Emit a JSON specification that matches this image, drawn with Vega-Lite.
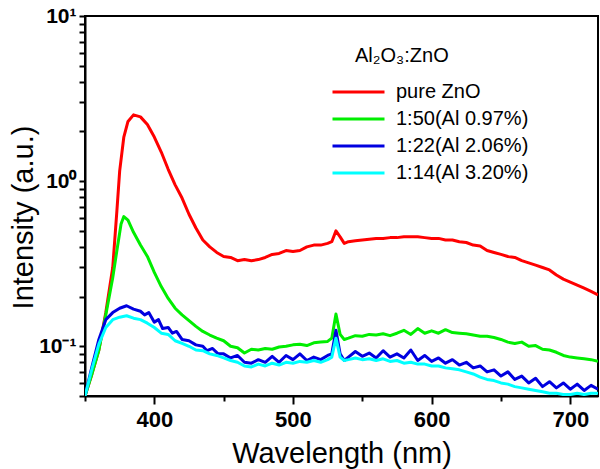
{
  "$schema": "https://vega.github.io/schema/vega-lite/v6.json",
  "width": 513,
  "height": 380,
  "autosize": {"type": "none"},
  "padding": {"left": 85, "top": 16, "right": 2, "bottom": 73},
  "background": "white",
  "config": {
    "view": {"stroke": "black", "strokeWidth": 2},
    "font": "Liberation Sans"
  },
  "title": {
    "text": "Al₂O₃:ZnO", "anchor": "start", "frame": "group", "orient": "top",
    "offset": 0, "baseline": "alphabetic", "dx": 270, "dy": 77,
    "font": "Liberation Sans", "fontSize": 20, "fontWeight": "normal", "color": "black"
  },
  "data": {
    "values": [
      {"w":350,"v":0.05,"s":"pure ZnO"},{"w":355,"v":0.068,"s":"pure ZnO"},{"w":360,"v":0.095,"s":"pure ZnO"},{"w":365,"v":0.16,"s":"pure ZnO"},{"w":370,"v":0.30,"s":"pure ZnO"},{"w":373,"v":0.66,"s":"pure ZnO"},{"w":375,"v":1.15,"s":"pure ZnO"},{"w":378,"v":1.85,"s":"pure ZnO"},{"w":381,"v":2.3,"s":"pure ZnO"},{"w":385,"v":2.52,"s":"pure ZnO"},{"w":390,"v":2.45,"s":"pure ZnO"},{"w":395,"v":2.2,"s":"pure ZnO"},{"w":400,"v":1.85,"s":"pure ZnO"},{"w":405,"v":1.5,"s":"pure ZnO"},{"w":410,"v":1.18,"s":"pure ZnO"},{"w":415,"v":0.95,"s":"pure ZnO"},{"w":420,"v":0.79,"s":"pure ZnO"},{"w":425,"v":0.63,"s":"pure ZnO"},{"w":430,"v":0.52,"s":"pure ZnO"},{"w":435,"v":0.44,"s":"pure ZnO"},{"w":440,"v":0.40,"s":"pure ZnO"},{"w":445,"v":0.37,"s":"pure ZnO"},{"w":450,"v":0.35,"s":"pure ZnO"},{"w":455,"v":0.345,"s":"pure ZnO"},{"w":460,"v":0.33,"s":"pure ZnO"},{"w":465,"v":0.335,"s":"pure ZnO"},{"w":470,"v":0.33,"s":"pure ZnO"},{"w":475,"v":0.335,"s":"pure ZnO"},{"w":480,"v":0.345,"s":"pure ZnO"},{"w":485,"v":0.36,"s":"pure ZnO"},{"w":490,"v":0.365,"s":"pure ZnO"},{"w":495,"v":0.38,"s":"pure ZnO"},{"w":500,"v":0.375,"s":"pure ZnO"},{"w":505,"v":0.38,"s":"pure ZnO"},{"w":510,"v":0.40,"s":"pure ZnO"},{"w":515,"v":0.41,"s":"pure ZnO"},{"w":520,"v":0.41,"s":"pure ZnO"},{"w":525,"v":0.42,"s":"pure ZnO"},{"w":528,"v":0.43,"s":"pure ZnO"},{"w":531,"v":0.50,"s":"pure ZnO"},{"w":534,"v":0.46,"s":"pure ZnO"},{"w":537,"v":0.42,"s":"pure ZnO"},{"w":540,"v":0.43,"s":"pure ZnO"},{"w":545,"v":0.435,"s":"pure ZnO"},{"w":550,"v":0.44,"s":"pure ZnO"},{"w":555,"v":0.445,"s":"pure ZnO"},{"w":560,"v":0.45,"s":"pure ZnO"},{"w":565,"v":0.45,"s":"pure ZnO"},{"w":570,"v":0.455,"s":"pure ZnO"},{"w":575,"v":0.455,"s":"pure ZnO"},{"w":580,"v":0.46,"s":"pure ZnO"},{"w":585,"v":0.46,"s":"pure ZnO"},{"w":590,"v":0.46,"s":"pure ZnO"},{"w":595,"v":0.455,"s":"pure ZnO"},{"w":600,"v":0.45,"s":"pure ZnO"},{"w":605,"v":0.45,"s":"pure ZnO"},{"w":610,"v":0.44,"s":"pure ZnO"},{"w":615,"v":0.44,"s":"pure ZnO"},{"w":620,"v":0.43,"s":"pure ZnO"},{"w":625,"v":0.425,"s":"pure ZnO"},{"w":630,"v":0.41,"s":"pure ZnO"},{"w":635,"v":0.405,"s":"pure ZnO"},{"w":640,"v":0.38,"s":"pure ZnO"},{"w":645,"v":0.37,"s":"pure ZnO"},{"w":650,"v":0.36,"s":"pure ZnO"},{"w":655,"v":0.35,"s":"pure ZnO"},{"w":660,"v":0.345,"s":"pure ZnO"},{"w":665,"v":0.33,"s":"pure ZnO"},{"w":670,"v":0.32,"s":"pure ZnO"},{"w":675,"v":0.31,"s":"pure ZnO"},{"w":680,"v":0.30,"s":"pure ZnO"},{"w":685,"v":0.29,"s":"pure ZnO"},{"w":690,"v":0.27,"s":"pure ZnO"},{"w":695,"v":0.255,"s":"pure ZnO"},{"w":700,"v":0.245,"s":"pure ZnO"},{"w":705,"v":0.235,"s":"pure ZnO"},{"w":710,"v":0.225,"s":"pure ZnO"},{"w":715,"v":0.215,"s":"pure ZnO"},{"w":720,"v":0.205,"s":"pure ZnO"},

      {"w":350,"v":0.05,"s":"1:50(Al 0.97%)"},{"w":355,"v":0.068,"s":"1:50(Al 0.97%)"},{"w":360,"v":0.095,"s":"1:50(Al 0.97%)"},{"w":365,"v":0.155,"s":"1:50(Al 0.97%)"},{"w":370,"v":0.26,"s":"1:50(Al 0.97%)"},{"w":373,"v":0.38,"s":"1:50(Al 0.97%)"},{"w":376,"v":0.55,"s":"1:50(Al 0.97%)"},{"w":378,"v":0.61,"s":"1:50(Al 0.97%)"},{"w":381,"v":0.58,"s":"1:50(Al 0.97%)"},{"w":385,"v":0.49,"s":"1:50(Al 0.97%)"},{"w":390,"v":0.41,"s":"1:50(Al 0.97%)"},{"w":395,"v":0.35,"s":"1:50(Al 0.97%)"},{"w":400,"v":0.28,"s":"1:50(Al 0.97%)"},{"w":405,"v":0.23,"s":"1:50(Al 0.97%)"},{"w":410,"v":0.195,"s":"1:50(Al 0.97%)"},{"w":415,"v":0.17,"s":"1:50(Al 0.97%)"},{"w":420,"v":0.155,"s":"1:50(Al 0.97%)"},{"w":425,"v":0.143,"s":"1:50(Al 0.97%)"},{"w":430,"v":0.132,"s":"1:50(Al 0.97%)"},{"w":435,"v":0.123,"s":"1:50(Al 0.97%)"},{"w":440,"v":0.117,"s":"1:50(Al 0.97%)"},{"w":445,"v":0.112,"s":"1:50(Al 0.97%)"},{"w":450,"v":0.108,"s":"1:50(Al 0.97%)"},{"w":455,"v":0.100,"s":"1:50(Al 0.97%)"},{"w":460,"v":0.098,"s":"1:50(Al 0.97%)"},{"w":465,"v":0.091,"s":"1:50(Al 0.97%)"},{"w":470,"v":0.096,"s":"1:50(Al 0.97%)"},{"w":475,"v":0.095,"s":"1:50(Al 0.97%)"},{"w":480,"v":0.097,"s":"1:50(Al 0.97%)"},{"w":485,"v":0.096,"s":"1:50(Al 0.97%)"},{"w":490,"v":0.099,"s":"1:50(Al 0.97%)"},{"w":495,"v":0.100,"s":"1:50(Al 0.97%)"},{"w":500,"v":0.102,"s":"1:50(Al 0.97%)"},{"w":505,"v":0.103,"s":"1:50(Al 0.97%)"},{"w":510,"v":0.101,"s":"1:50(Al 0.97%)"},{"w":515,"v":0.105,"s":"1:50(Al 0.97%)"},{"w":520,"v":0.106,"s":"1:50(Al 0.97%)"},{"w":525,"v":0.107,"s":"1:50(Al 0.97%)"},{"w":528,"v":0.112,"s":"1:50(Al 0.97%)"},{"w":531,"v":0.157,"s":"1:50(Al 0.97%)"},{"w":534,"v":0.118,"s":"1:50(Al 0.97%)"},{"w":537,"v":0.110,"s":"1:50(Al 0.97%)"},{"w":540,"v":0.112,"s":"1:50(Al 0.97%)"},{"w":545,"v":0.116,"s":"1:50(Al 0.97%)"},{"w":550,"v":0.115,"s":"1:50(Al 0.97%)"},{"w":555,"v":0.118,"s":"1:50(Al 0.97%)"},{"w":560,"v":0.117,"s":"1:50(Al 0.97%)"},{"w":565,"v":0.119,"s":"1:50(Al 0.97%)"},{"w":570,"v":0.116,"s":"1:50(Al 0.97%)"},{"w":575,"v":0.12,"s":"1:50(Al 0.97%)"},{"w":580,"v":0.125,"s":"1:50(Al 0.97%)"},{"w":585,"v":0.118,"s":"1:50(Al 0.97%)"},{"w":590,"v":0.128,"s":"1:50(Al 0.97%)"},{"w":595,"v":0.12,"s":"1:50(Al 0.97%)"},{"w":600,"v":0.124,"s":"1:50(Al 0.97%)"},{"w":605,"v":0.12,"s":"1:50(Al 0.97%)"},{"w":610,"v":0.126,"s":"1:50(Al 0.97%)"},{"w":615,"v":0.121,"s":"1:50(Al 0.97%)"},{"w":620,"v":0.12,"s":"1:50(Al 0.97%)"},{"w":625,"v":0.119,"s":"1:50(Al 0.97%)"},{"w":630,"v":0.117,"s":"1:50(Al 0.97%)"},{"w":635,"v":0.115,"s":"1:50(Al 0.97%)"},{"w":640,"v":0.115,"s":"1:50(Al 0.97%)"},{"w":645,"v":0.113,"s":"1:50(Al 0.97%)"},{"w":650,"v":0.11,"s":"1:50(Al 0.97%)"},{"w":655,"v":0.106,"s":"1:50(Al 0.97%)"},{"w":660,"v":0.104,"s":"1:50(Al 0.97%)"},{"w":665,"v":0.106,"s":"1:50(Al 0.97%)"},{"w":670,"v":0.100,"s":"1:50(Al 0.97%)"},{"w":675,"v":0.101,"s":"1:50(Al 0.97%)"},{"w":680,"v":0.096,"s":"1:50(Al 0.97%)"},{"w":685,"v":0.095,"s":"1:50(Al 0.97%)"},{"w":690,"v":0.092,"s":"1:50(Al 0.97%)"},{"w":695,"v":0.088,"s":"1:50(Al 0.97%)"},{"w":700,"v":0.086,"s":"1:50(Al 0.97%)"},{"w":705,"v":0.085,"s":"1:50(Al 0.97%)"},{"w":710,"v":0.084,"s":"1:50(Al 0.97%)"},{"w":715,"v":0.083,"s":"1:50(Al 0.97%)"},{"w":720,"v":0.081,"s":"1:50(Al 0.97%)"},

      {"w":350,"v":0.05,"s":"1:22(Al 2.06%)"},{"w":355,"v":0.075,"s":"1:22(Al 2.06%)"},{"w":360,"v":0.11,"s":"1:22(Al 2.06%)"},{"w":365,"v":0.145,"s":"1:22(Al 2.06%)"},{"w":370,"v":0.16,"s":"1:22(Al 2.06%)"},{"w":375,"v":0.17,"s":"1:22(Al 2.06%)"},{"w":380,"v":0.176,"s":"1:22(Al 2.06%)"},{"w":385,"v":0.168,"s":"1:22(Al 2.06%)"},{"w":390,"v":0.163,"s":"1:22(Al 2.06%)"},{"w":393,"v":0.155,"s":"1:22(Al 2.06%)"},{"w":396,"v":0.16,"s":"1:22(Al 2.06%)"},{"w":400,"v":0.14,"s":"1:22(Al 2.06%)"},{"w":403,"v":0.145,"s":"1:22(Al 2.06%)"},{"w":406,"v":0.128,"s":"1:22(Al 2.06%)"},{"w":410,"v":0.13,"s":"1:22(Al 2.06%)"},{"w":413,"v":0.12,"s":"1:22(Al 2.06%)"},{"w":416,"v":0.123,"s":"1:22(Al 2.06%)"},{"w":420,"v":0.11,"s":"1:22(Al 2.06%)"},{"w":425,"v":0.108,"s":"1:22(Al 2.06%)"},{"w":430,"v":0.102,"s":"1:22(Al 2.06%)"},{"w":435,"v":0.1,"s":"1:22(Al 2.06%)"},{"w":438,"v":0.094,"s":"1:22(Al 2.06%)"},{"w":442,"v":0.097,"s":"1:22(Al 2.06%)"},{"w":446,"v":0.09,"s":"1:22(Al 2.06%)"},{"w":450,"v":0.09,"s":"1:22(Al 2.06%)"},{"w":455,"v":0.085,"s":"1:22(Al 2.06%)"},{"w":460,"v":0.088,"s":"1:22(Al 2.06%)"},{"w":465,"v":0.08,"s":"1:22(Al 2.06%)"},{"w":470,"v":0.079,"s":"1:22(Al 2.06%)"},{"w":475,"v":0.083,"s":"1:22(Al 2.06%)"},{"w":480,"v":0.08,"s":"1:22(Al 2.06%)"},{"w":485,"v":0.087,"s":"1:22(Al 2.06%)"},{"w":490,"v":0.08,"s":"1:22(Al 2.06%)"},{"w":495,"v":0.088,"s":"1:22(Al 2.06%)"},{"w":500,"v":0.083,"s":"1:22(Al 2.06%)"},{"w":505,"v":0.09,"s":"1:22(Al 2.06%)"},{"w":510,"v":0.082,"s":"1:22(Al 2.06%)"},{"w":515,"v":0.086,"s":"1:22(Al 2.06%)"},{"w":520,"v":0.083,"s":"1:22(Al 2.06%)"},{"w":525,"v":0.088,"s":"1:22(Al 2.06%)"},{"w":528,"v":0.09,"s":"1:22(Al 2.06%)"},{"w":531,"v":0.125,"s":"1:22(Al 2.06%)"},{"w":534,"v":0.09,"s":"1:22(Al 2.06%)"},{"w":537,"v":0.082,"s":"1:22(Al 2.06%)"},{"w":540,"v":0.086,"s":"1:22(Al 2.06%)"},{"w":545,"v":0.093,"s":"1:22(Al 2.06%)"},{"w":550,"v":0.087,"s":"1:22(Al 2.06%)"},{"w":555,"v":0.091,"s":"1:22(Al 2.06%)"},{"w":560,"v":0.085,"s":"1:22(Al 2.06%)"},{"w":565,"v":0.094,"s":"1:22(Al 2.06%)"},{"w":570,"v":0.086,"s":"1:22(Al 2.06%)"},{"w":575,"v":0.09,"s":"1:22(Al 2.06%)"},{"w":580,"v":0.085,"s":"1:22(Al 2.06%)"},{"w":585,"v":0.095,"s":"1:22(Al 2.06%)"},{"w":590,"v":0.082,"s":"1:22(Al 2.06%)"},{"w":595,"v":0.088,"s":"1:22(Al 2.06%)"},{"w":600,"v":0.081,"s":"1:22(Al 2.06%)"},{"w":605,"v":0.085,"s":"1:22(Al 2.06%)"},{"w":610,"v":0.079,"s":"1:22(Al 2.06%)"},{"w":615,"v":0.083,"s":"1:22(Al 2.06%)"},{"w":620,"v":0.077,"s":"1:22(Al 2.06%)"},{"w":625,"v":0.08,"s":"1:22(Al 2.06%)"},{"w":630,"v":0.074,"s":"1:22(Al 2.06%)"},{"w":635,"v":0.076,"s":"1:22(Al 2.06%)"},{"w":640,"v":0.07,"s":"1:22(Al 2.06%)"},{"w":645,"v":0.072,"s":"1:22(Al 2.06%)"},{"w":650,"v":0.066,"s":"1:22(Al 2.06%)"},{"w":655,"v":0.07,"s":"1:22(Al 2.06%)"},{"w":660,"v":0.063,"s":"1:22(Al 2.06%)"},{"w":665,"v":0.066,"s":"1:22(Al 2.06%)"},{"w":670,"v":0.06,"s":"1:22(Al 2.06%)"},{"w":675,"v":0.064,"s":"1:22(Al 2.06%)"},{"w":680,"v":0.057,"s":"1:22(Al 2.06%)"},{"w":685,"v":0.061,"s":"1:22(Al 2.06%)"},{"w":690,"v":0.056,"s":"1:22(Al 2.06%)"},{"w":695,"v":0.06,"s":"1:22(Al 2.06%)"},{"w":700,"v":0.055,"s":"1:22(Al 2.06%)"},{"w":705,"v":0.059,"s":"1:22(Al 2.06%)"},{"w":710,"v":0.054,"s":"1:22(Al 2.06%)"},{"w":715,"v":0.058,"s":"1:22(Al 2.06%)"},{"w":720,"v":0.055,"s":"1:22(Al 2.06%)"},

      {"w":350,"v":0.05,"s":"1:14(Al 3.20%)"},{"w":355,"v":0.073,"s":"1:14(Al 3.20%)"},{"w":360,"v":0.103,"s":"1:14(Al 3.20%)"},{"w":365,"v":0.13,"s":"1:14(Al 3.20%)"},{"w":370,"v":0.145,"s":"1:14(Al 3.20%)"},{"w":375,"v":0.15,"s":"1:14(Al 3.20%)"},{"w":380,"v":0.153,"s":"1:14(Al 3.20%)"},{"w":385,"v":0.148,"s":"1:14(Al 3.20%)"},{"w":390,"v":0.145,"s":"1:14(Al 3.20%)"},{"w":395,"v":0.138,"s":"1:14(Al 3.20%)"},{"w":400,"v":0.13,"s":"1:14(Al 3.20%)"},{"w":405,"v":0.12,"s":"1:14(Al 3.20%)"},{"w":410,"v":0.118,"s":"1:14(Al 3.20%)"},{"w":415,"v":0.108,"s":"1:14(Al 3.20%)"},{"w":420,"v":0.104,"s":"1:14(Al 3.20%)"},{"w":425,"v":0.1,"s":"1:14(Al 3.20%)"},{"w":430,"v":0.095,"s":"1:14(Al 3.20%)"},{"w":435,"v":0.094,"s":"1:14(Al 3.20%)"},{"w":440,"v":0.09,"s":"1:14(Al 3.20%)"},{"w":445,"v":0.088,"s":"1:14(Al 3.20%)"},{"w":450,"v":0.085,"s":"1:14(Al 3.20%)"},{"w":455,"v":0.082,"s":"1:14(Al 3.20%)"},{"w":460,"v":0.08,"s":"1:14(Al 3.20%)"},{"w":465,"v":0.076,"s":"1:14(Al 3.20%)"},{"w":470,"v":0.075,"s":"1:14(Al 3.20%)"},{"w":475,"v":0.078,"s":"1:14(Al 3.20%)"},{"w":480,"v":0.076,"s":"1:14(Al 3.20%)"},{"w":485,"v":0.079,"s":"1:14(Al 3.20%)"},{"w":490,"v":0.077,"s":"1:14(Al 3.20%)"},{"w":495,"v":0.08,"s":"1:14(Al 3.20%)"},{"w":500,"v":0.079,"s":"1:14(Al 3.20%)"},{"w":505,"v":0.081,"s":"1:14(Al 3.20%)"},{"w":510,"v":0.08,"s":"1:14(Al 3.20%)"},{"w":515,"v":0.082,"s":"1:14(Al 3.20%)"},{"w":520,"v":0.08,"s":"1:14(Al 3.20%)"},{"w":525,"v":0.083,"s":"1:14(Al 3.20%)"},{"w":528,"v":0.086,"s":"1:14(Al 3.20%)"},{"w":531,"v":0.112,"s":"1:14(Al 3.20%)"},{"w":534,"v":0.086,"s":"1:14(Al 3.20%)"},{"w":537,"v":0.082,"s":"1:14(Al 3.20%)"},{"w":540,"v":0.083,"s":"1:14(Al 3.20%)"},{"w":545,"v":0.085,"s":"1:14(Al 3.20%)"},{"w":550,"v":0.083,"s":"1:14(Al 3.20%)"},{"w":555,"v":0.084,"s":"1:14(Al 3.20%)"},{"w":560,"v":0.082,"s":"1:14(Al 3.20%)"},{"w":565,"v":0.084,"s":"1:14(Al 3.20%)"},{"w":570,"v":0.081,"s":"1:14(Al 3.20%)"},{"w":575,"v":0.082,"s":"1:14(Al 3.20%)"},{"w":580,"v":0.079,"s":"1:14(Al 3.20%)"},{"w":585,"v":0.08,"s":"1:14(Al 3.20%)"},{"w":590,"v":0.078,"s":"1:14(Al 3.20%)"},{"w":595,"v":0.078,"s":"1:14(Al 3.20%)"},{"w":600,"v":0.076,"s":"1:14(Al 3.20%)"},{"w":605,"v":0.076,"s":"1:14(Al 3.20%)"},{"w":610,"v":0.074,"s":"1:14(Al 3.20%)"},{"w":615,"v":0.073,"s":"1:14(Al 3.20%)"},{"w":620,"v":0.072,"s":"1:14(Al 3.20%)"},{"w":625,"v":0.07,"s":"1:14(Al 3.20%)"},{"w":630,"v":0.068,"s":"1:14(Al 3.20%)"},{"w":635,"v":0.065,"s":"1:14(Al 3.20%)"},{"w":640,"v":0.063,"s":"1:14(Al 3.20%)"},{"w":645,"v":0.062,"s":"1:14(Al 3.20%)"},{"w":650,"v":0.06,"s":"1:14(Al 3.20%)"},{"w":655,"v":0.059,"s":"1:14(Al 3.20%)"},{"w":660,"v":0.057,"s":"1:14(Al 3.20%)"},{"w":665,"v":0.056,"s":"1:14(Al 3.20%)"},{"w":670,"v":0.055,"s":"1:14(Al 3.20%)"},{"w":675,"v":0.054,"s":"1:14(Al 3.20%)"},{"w":680,"v":0.053,"s":"1:14(Al 3.20%)"},{"w":685,"v":0.052,"s":"1:14(Al 3.20%)"},{"w":690,"v":0.052,"s":"1:14(Al 3.20%)"},{"w":695,"v":0.051,"s":"1:14(Al 3.20%)"},{"w":700,"v":0.051,"s":"1:14(Al 3.20%)"},{"w":705,"v":0.052,"s":"1:14(Al 3.20%)"},{"w":710,"v":0.051,"s":"1:14(Al 3.20%)"},{"w":715,"v":0.052,"s":"1:14(Al 3.20%)"},{"w":720,"v":0.052,"s":"1:14(Al 3.20%)"}
    ]
  },
  "mark": {"type": "line", "strokeWidth": 3, "clip": true, "strokeJoin": "round"},
  "encoding": {
    "x": {
      "field": "w", "type": "quantitative",
      "scale": {"domain": [350, 720], "nice": false, "zero": false},
      "axis": {
        "title": "Wavelength (nm)",
        "values": [350, 400, 450, 500, 550, 600, 650, 700],
        "labelExpr": "datum.value % 100 == 0 ? datum.label : ''",
        "format": "d",
        "grid": false,
        "domainColor": "black", "domainWidth": 2,
        "tickColor": "black", "tickWidth": 2,
        "tickSize": {"condition": {"test": "datum.value % 100 == 0", "value": 8}, "value": 5},
        "labelFont": "Liberation Sans", "labelFontWeight": "bold", "labelFontSize": 22, "labelColor": "black",
        "labelPadding": 5,
        "titleFont": "Liberation Sans", "titleFontWeight": "normal", "titleFontSize": 29, "titleColor": "black",
        "titleBaseline": "alphabetic", "titleY": 66
      }
    },
    "y": {
      "field": "v", "type": "quantitative",
      "scale": {"type": "log", "domain": [0.05, 10], "nice": false},
      "axis": {
        "title": "Intensity (a.u.)",
        "values": [0.05, 0.06, 0.07, 0.08, 0.09, 0.1, 0.2, 0.3, 0.4, 0.5, 0.6, 0.7, 0.8, 0.9, 1, 2, 3, 4, 5, 6, 7, 8, 9, 10],
        "labelExpr": "datum.value == 10 ? '10¹' : datum.value == 1 ? '10⁰' : datum.value == 0.1 ? '10⁻¹' : ''",
        "grid": false,
        "ticks": true,
        "domainColor": "black", "domainWidth": 2,
        "tickColor": "black", "tickWidth": 2,
        "tickSize": 6,
        "labelFont": "Liberation Sans", "labelFontWeight": "bold", "labelFontSize": 21, "labelColor": "black",
        "labelPadding": 3,
        "labelOverlap": false,
        "titleFont": "Liberation Sans", "titleFontWeight": "normal", "titleFontSize": 29, "titleColor": "black",
        "titleAngle": -90, "titleBaseline": "middle", "titleAlign": "center", "titleX": -62, "titleY": 201
      }
    },
    "color": {
      "field": "s", "type": "nominal",
      "scale": {
        "domain": ["pure ZnO", "1:50(Al 0.97%)", "1:22(Al 2.06%)", "1:14(Al 3.20%)"],
        "range": ["#ff0000", "#00ee00", "#0000e0", "#00ffff"]
      },
      "legend": {
        "title": null,
        "orient": "none", "legendX": 246, "legendY": 66,
        "labelFont": "Liberation Sans", "labelFontSize": 20, "labelColor": "black",
        "labelOffset": 10,
        "symbolType": "stroke", "symbolSize": 2704, "symbolStrokeWidth": 3,
        "clipHeight": 20,
        "rowPadding": 7
      }
    }
  }
}
